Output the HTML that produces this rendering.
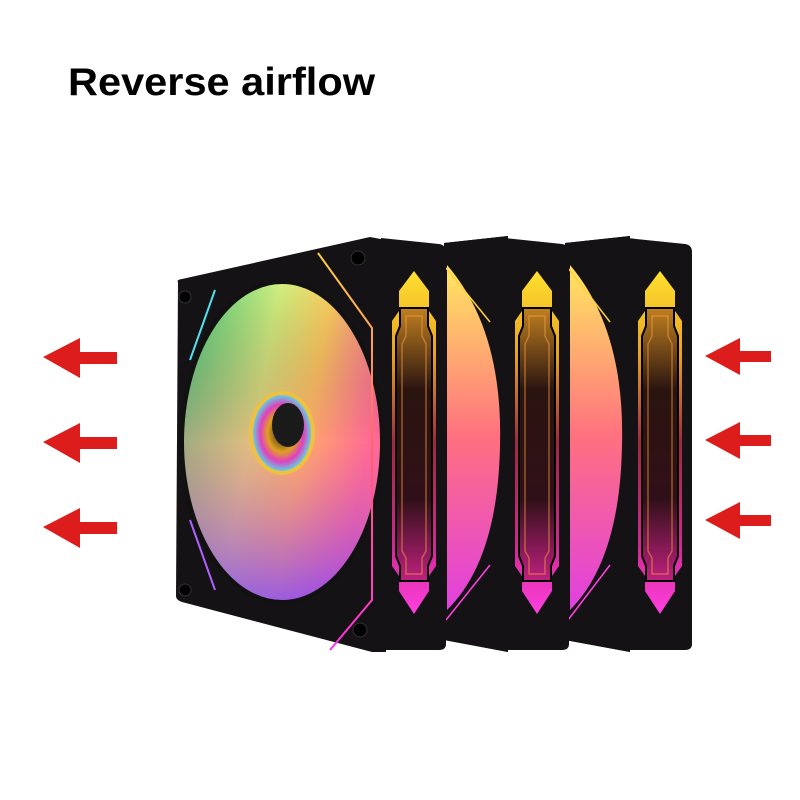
<!DOCTYPE html>
<html><head><meta charset="utf-8"><style>html,body{margin:0;padding:0;background:#fff}svg{display:block}</style></head>
<body>
<svg width="800" height="800" viewBox="0 0 800 800" xmlns="http://www.w3.org/2000/svg">
<defs>
<linearGradient id="strip" x1="0" y1="0" x2="0" y2="1">
<stop offset="0" stop-color="#ffe030"/><stop offset="0.25" stop-color="#e8a020"/><stop offset="0.5" stop-color="#a02840"/><stop offset="0.8" stop-color="#d02890"/><stop offset="1" stop-color="#ff40e0"/>
</linearGradient>
<linearGradient id="inner" x1="0" y1="0" x2="0" y2="1">
<stop offset="0" stop-color="#c08020"/><stop offset="0.3" stop-color="#2a1410"/><stop offset="0.7" stop-color="#301018"/><stop offset="1" stop-color="#c02080"/>
</linearGradient>
<linearGradient id="edge" x1="0" y1="0" x2="0" y2="1">
<stop offset="0" stop-color="#ffd040"/><stop offset="0.5" stop-color="#ff6070"/><stop offset="1" stop-color="#ff30e0"/>
</linearGradient>
<linearGradient id="fanL" x1="0" y1="0" x2="1" y2="0.3">
<stop offset="0" stop-color="#40c880"/><stop offset="0.45" stop-color="#d0f080"/><stop offset="0.7" stop-color="#ffd060"/><stop offset="1" stop-color="#ff70a0"/>
</linearGradient>
<linearGradient id="fanV" x1="0" y1="0" x2="0" y2="1">
<stop offset="0" stop-color="#000" stop-opacity="0"/><stop offset="0.5" stop-color="#ff6080" stop-opacity="0.35"/><stop offset="1" stop-color="#8040ff" stop-opacity="0.8"/>
</linearGradient>
<linearGradient id="slice" x1="0" y1="0" x2="0" y2="1">
<stop offset="0" stop-color="#ffe860"/><stop offset="0.5" stop-color="#ff7080"/><stop offset="1" stop-color="#e040e0"/>
</linearGradient>
<radialGradient id="hub" cx="0.5" cy="0.5" r="0.5">
<stop offset="0" stop-color="#202020"/><stop offset="0.5" stop-color="#e0a020"/><stop offset="0.75" stop-color="#e040c0"/><stop offset="1" stop-color="#60d0e0"/>
</radialGradient>
<g id="side">
<path d="M-3,2 L55,8 Q62,9 62,16 L62,408 Q62,414 55,414 L-3,414 Z" fill="#141214"/>
<line x1="30" y1="5" x2="30" y2="412" stroke="url(#edge)" stroke-width="1.5"/>
<path d="M30,35 L45,55 L45,75 L52,85 L52,330 L45,340 L45,355 L30,378 L15,355 L15,340 L8,330 L8,85 L15,75 L15,55 Z" fill="url(#strip)"/>
<path d="M16,72 L44,72 L44,90 L48,100 L48,320 L44,330 L44,345 L16,345 L16,330 L12,320 L12,100 L16,90 Z" fill="url(#inner)" stroke="#000" stroke-width="2"/>
<path d="M22,80 L38,80 L38,100 L42,108 L42,315 L38,322 L38,338 L22,338 L22,322 L18,315 L18,108 L22,100 Z" fill="none" stroke="#ffa040" stroke-opacity="0.5" stroke-width="1.5"/>
</g>
</defs>
<rect width="800" height="800" fill="#fff"/>
<text x="68" y="95" font-family="Liberation Sans, sans-serif" font-weight="bold" font-size="39" textLength="307" lengthAdjust="spacingAndGlyphs" fill="#000">Reverse airflow</text>

<!-- fan 3 -->
<path d="M565,243 L630,236 L630,652 L565,640 Z" fill="#141214"/>
<path d="M570,265 Q625,330 622,445 Q620,560 570,610 Z" fill="url(#slice)"/>
<path d="M565,243 L630,236 L630,262 Q600,250 565,262 Z" fill="#141214"/>
<path d="M565,620 L630,625 L630,652 L565,640 Z" fill="#141214"/>
<line x1="568" y1="268" x2="610" y2="322" stroke="#ffd040" stroke-width="1.5"/>
<line x1="568" y1="620" x2="610" y2="565" stroke="#ff40e0" stroke-width="1.5"/>
<use href="#side" x="630" y="236"/>
<!-- fan 2 -->
<path d="M444,243 L508,236 L508,652 L444,640 Z" fill="#141214"/>
<path d="M447,265 Q503,330 500,445 Q498,560 447,610 Z" fill="url(#slice)"/>
<path d="M444,243 L508,236 L508,262 Q480,250 444,262 Z" fill="#141214"/>
<path d="M444,620 L508,625 L508,652 L444,640 Z" fill="#141214"/>
<line x1="446" y1="268" x2="490" y2="322" stroke="#ffd040" stroke-width="1.5"/>
<line x1="446" y1="620" x2="490" y2="565" stroke="#ff40e0" stroke-width="1.5"/>
<use href="#side" x="507" y="236"/>
<!-- fan 1 front -->
<path d="M178,282 Q176,280 182,279 L370,237 L386,240 L386,652 L372,652 L182,602 Q176,600 176,596 Z" fill="#141214"/>
<ellipse cx="282" cy="442" rx="100" ry="160" fill="url(#fanL)"/>
<ellipse cx="282" cy="442" rx="100" ry="160" fill="url(#fanV)"/>
<ellipse cx="282" cy="442" rx="100" ry="160" fill="none" stroke="#111" stroke-width="4"/>
<ellipse cx="282" cy="433" rx="33" ry="42" fill="#f0c040"/>
<ellipse cx="282" cy="433" rx="29" ry="38" fill="url(#hub)"/>
<ellipse cx="288" cy="425" rx="16" ry="22" fill="#1a1a1a"/>
<line x1="215" y1="290" x2="190" y2="360" stroke="#50e0f0" stroke-width="2"/>
<line x1="190" y1="520" x2="215" y2="590" stroke="#b060ff" stroke-width="2"/>
<polyline points="318,253 372,328 372,600 330,650" fill="none" stroke="url(#edge)" stroke-width="2"/>
<circle cx="185" cy="297" r="6" fill="#000" stroke="#333"/>
<circle cx="185" cy="590" r="6" fill="#000" stroke="#333"/>
<circle cx="358" cy="258" r="7" fill="#000" stroke="#333"/>
<circle cx="360" cy="630" r="7" fill="#000" stroke="#333"/>
<use href="#side" x="384" y="236"/>

<!-- arrows -->
<g fill="#dd1c1c">
<path d="M43,357 L80,338 L80,352 L117,352 L117,364 L80,364 L80,378 Z"/>
<path d="M43,442 L80,423 L80,437 L117,437 L117,449 L80,449 L80,463 Z"/>
<path d="M43,527 L80,508 L80,522 L117,522 L117,534 L80,534 L80,548 Z"/>
<path d="M705,356 L740,338 L740,351 L771,351 L771,362 L740,362 L740,375 Z"/>
<path d="M705,440 L740,422 L740,435 L771,435 L771,446 L740,446 L740,459 Z"/>
<path d="M705,520 L740,502 L740,515 L771,515 L771,526 L740,526 L740,539 Z"/>
</g>
</svg>
</body></html>
